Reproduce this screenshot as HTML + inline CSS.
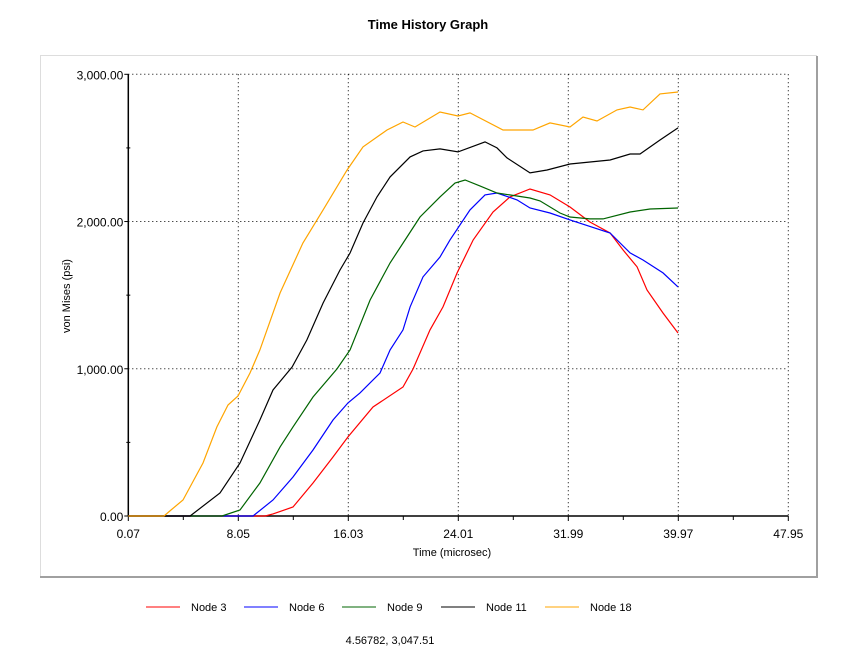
<!DOCTYPE html>
<html><head><meta charset="utf-8"><style>
html,body{margin:0;padding:0;background:#fff;width:856px;height:659px;overflow:hidden;font-family:"Liberation Sans",sans-serif}
</style></head><body>
<svg width="856" height="659" xmlns="http://www.w3.org/2000/svg">
<text x="428" y="29" text-anchor="middle" font-weight="bold" font-size="13">Time History Graph</text>
<rect x="40.5" y="55.5" width="776" height="521" fill="#fff" stroke="#ddd"/>
<line x1="817" y1="56" x2="817" y2="578" stroke="#a0a0a0" stroke-width="2"/>
<line x1="40" y1="577" x2="818" y2="577" stroke="#a0a0a0" stroke-width="2"/>
<g id="grid"></g><g id="axes"></g><g id="series"></g>
<text x="452" y="556" text-anchor="middle" font-size="11">Time (microsec)</text>
<text transform="translate(70,296) rotate(-90)" text-anchor="middle" font-size="11">von Mises (psi)</text>
<g id="legend"></g>
<text x="390" y="644" text-anchor="middle" font-size="11">4.56782, 3,047.51</text>
</svg>
<script>
const xTicks=[0.07,8.05,16.03,24.01,31.99,39.97,47.95];
const yTicks=[0,1000,2000,3000];
const yTickLabels=["0.00","1,000.00","2,000.00","3,000.00"];
const seriesNames=["Node 3","Node 6","Node 9","Node 11","Node 18"];
const seriesColors=["#ff0000","#0000ff","#006400","#000000","#ffa500"];
const t3=[0.07,10.0,10.57,12.02,13.47,14.92,16.01,17.82,20.0,20.73,21.96,22.9,23.92,25.09,26.53,27.76,29.21,30.66,32.11,33.56,35.02,35.96,36.98,37.7,38.86,39.95];
const v3=[0,0,14,61,224,401,537,740,876,999,1264,1420,1651,1875,2065,2167,2221,2181,2099,1997,1922,1807,1692,1535,1379,1243];
const t6=[0.07,9.12,10.57,12.02,13.47,14.92,16.01,16.88,18.33,19.06,20.0,20.51,21.45,22.68,23.41,24.86,25.95,26.82,28.27,29.21,30.66,32.11,35.02,36.47,37.41,38.86,39.95];
const v6=[0,0,109,265,448,652,768,836,971,1128,1264,1420,1624,1759,1875,2079,2181,2194,2147,2092,2058,2011,1922,1787,1739,1651,1556];
const t9=[0.07,6.87,8.17,9.62,11.08,12.02,13.47,15.21,16.16,17.61,19.06,20.29,21.23,22.68,23.77,24.5,25.58,26.82,29.21,29.94,31.39,32.11,33.56,34.51,36.47,37.92,39.95];
const v9=[0,0,41,224,469,605,808,999,1128,1467,1719,1895,2031,2167,2262,2282,2242,2194,2160,2140,2058,2031,2018,2018,2065,2085,2092];
const t11=[0.07,4.55,6.72,8.17,9.62,10.57,11.95,13.03,14.2,15.43,16.16,17.1,18.11,19.06,20.51,21.45,22.68,23.99,25.95,26.82,27.54,29.21,30.45,32.11,35.02,36.47,37.19,38.64,39.95];
const v11=[0,0,156,360,652,856,1012,1196,1447,1671,1787,1990,2167,2303,2439,2480,2493,2473,2541,2500,2432,2330,2350,2391,2418,2459,2459,2554,2636];
const t18=[0.07,2.66,3.17,4.04,5.49,6.5,7.3,8.03,8.9,9.62,11.08,12.74,14.2,15.94,17.1,18.84,20.0,20.87,22.68,23.99,24.86,27.25,29.43,30.66,32.11,33.06,34.07,35.52,36.47,37.41,38.64,39.95];
const v18=[0,0,41,109,360,605,754,815,971,1128,1515,1854,2079,2350,2507,2622,2676,2642,2744,2717,2738,2622,2622,2670,2642,2710,2683,2758,2778,2758,2867,2880];
const allT=[t3,t6,t9,t11,t18], allV=[v3,v6,v9,v11,v18];
const NS="http://www.w3.org/2000/svg";
const X0=128.3,X1=788.3,Y0=516,Y1=74.3,xMin=0.07,xMax=47.95,yMin=0,yMax=3000;
const xs=t=>X0+(t-xMin)/(xMax-xMin)*(X1-X0);
const ys=v=>Y0-(v-yMin)/(yMax-yMin)*(Y0-Y1);
function mk(tag,attrs,parent){const e=document.createElementNS(NS,tag);for(const k in attrs)e.setAttribute(k,attrs[k]);parent.appendChild(e);return e;}
const grid=document.getElementById('grid'),axes=document.getElementById('axes'),ser=document.getElementById('series'),leg=document.getElementById('legend');
xTicks.forEach((t,i)=>{
  if(i>0){const g=mk('line',{x1:xs(t),x2:xs(t),y1:Y1,y2:Y0,stroke:'#000','stroke-dasharray':'1,3'},grid);
  
  }
  const tk=mk('line',{x1:xs(t),x2:xs(t),y1:Y0,y2:Y0+5,stroke:'#000'},axes);
  
  
  if(i<xTicks.length-1){const m=mk('line',{x1:xs(t+3.99),x2:xs(t+3.99),y1:Y0,y2:Y0+4,stroke:'#000'},axes);
  
  }
  const l=mk('text',{x:xs(t),y:Y0+22,'text-anchor':'middle','font-size':'12'},axes);l.textContent=t.toFixed(2);
  
  
});
yTicks.forEach((v,i)=>{
  if(i>0){const g=mk('line',{x1:X0,x2:X1,y1:ys(v),y2:ys(v),stroke:'#000','stroke-dasharray':'1,3'},grid);
  
  }
  const tk=mk('line',{x1:X0-4,x2:X0,y1:ys(v),y2:ys(v),stroke:'#000'},axes);
  
  
  if(i<yTicks.length-1){const m=mk('line',{x1:X0-2,x2:X0+2,y1:ys(v+500),y2:ys(v+500),stroke:'#000'},axes);
  
  }
  const l=mk('text',{x:X0-5,y:ys(v)+5,'text-anchor':'end','font-size':'12'},axes);l.textContent=yTickLabels[i];
  
  
});
const ya=mk('line',{x1:X0,x2:X0,y1:Y1,y2:Y0,stroke:'#000','stroke-width':1.5},axes);


const xa=mk('line',{x1:X0,x2:X1,y1:Y0,y2:Y0,stroke:'#000','stroke-width':1.5},axes);


const legX=[146,244,342,441,545];
allT.forEach((ts,i)=>{
  const pts=ts.map((t,j)=>xs(t).toFixed(1)+','+ys(allV[i][j]).toFixed(1)).join(' ');
  const p=mk('polyline',{points:pts,fill:'none',stroke:seriesColors[i],'stroke-width':1.2},ser);
  
  
  const g=mk('g',{},leg);
  
  
  mk('line',{x1:legX[i],x2:legX[i]+34,y1:607,y2:607,stroke:seriesColors[i]},g);
  const tx=mk('text',{x:legX[i]+45,y:611,'font-size':'11'},g);tx.textContent=seriesNames[i];
});
</script>
</body></html>
